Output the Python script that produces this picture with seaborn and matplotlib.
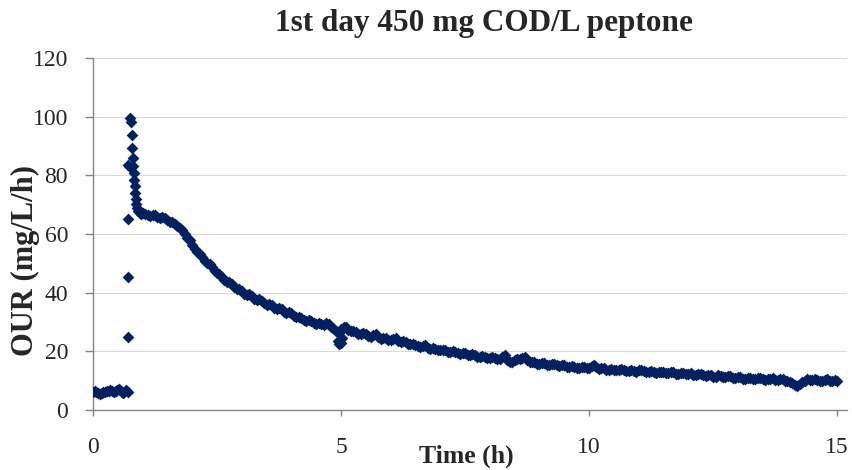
import matplotlib
matplotlib.use("Agg")
import matplotlib.pyplot as plt
import pandas as pd
import seaborn as sns

# Oxygen uptake rate readings, first day, 450 mg COD/L peptone
# Endogenous baseline before the substrate pulse
base_t = [0.00, 0.035, 0.07, 0.105, 0.14, 0.175, 0.21, 0.245, 0.28, 0.315, 0.35,
          0.385, 0.42, 0.455, 0.49, 0.525, 0.56, 0.595, 0.63, 0.665, 0.70]
base_our = [6.3, 6.5, 6.1, 5.8, 5.6, 5.9, 6.2, 6.0, 6.4, 6.6, 6.9,
            6.5, 6.2, 6.4, 6.8, 7.2, 6.6, 5.9, 6.2, 6.7, 6.3]

# Response to the peptone pulse
spike_t = [0.71, 0.71, 0.71, 0.71, 0.74, 0.75, 0.77, 0.78, 0.79, 0.80, 0.81,
           0.82, 0.83, 0.84, 0.85, 0.86, 0.87, 0.89, 0.91, 0.94, 0.97]
spike_our = [24.8, 45.5, 65.0, 83.5, 83.0, 99.5, 98.3, 93.8, 89.3, 85.8, 83.2,
             80.8, 78.4, 76.2, 74.0, 71.8, 70.2, 68.8, 68.0, 67.3, 66.9]

# Degradation phase, readings on the tenth of the hour
decay_t = [
    1.0, 1.1, 1.2, 1.3, 1.4, 1.5, 1.6, 1.7, 1.8, 1.9,
    2.0, 2.1, 2.2, 2.3, 2.4, 2.5, 2.6, 2.7, 2.8, 2.9,
    3.0, 3.1, 3.2, 3.3, 3.4, 3.5, 3.6, 3.7, 3.8, 3.9,
    4.0, 4.1, 4.2, 4.3, 4.4, 4.5, 4.6, 4.7, 4.8, 4.9,
    4.93, 4.96, 4.99, 5.02,
    5.0, 5.1, 5.2, 5.3, 5.4, 5.5, 5.6, 5.7, 5.8, 5.9,
    6.0, 6.1, 6.2, 6.3, 6.4, 6.5, 6.6, 6.7, 6.8, 6.9,
    7.0, 7.1, 7.2, 7.3, 7.4, 7.5, 7.6, 7.7, 7.8, 7.9,
    8.0, 8.1, 8.2, 8.3, 8.4, 8.5, 8.6, 8.7, 8.8, 8.9,
    9.0, 9.1, 9.2, 9.3, 9.4, 9.5, 9.6, 9.7, 9.8, 9.9,
    10.0, 10.1, 10.2, 10.3, 10.4, 10.5, 10.6, 10.7, 10.8, 10.9,
    11.0, 11.1, 11.2, 11.3, 11.4, 11.5, 11.6, 11.7, 11.8, 11.9,
    12.0, 12.1, 12.2, 12.3, 12.4, 12.5, 12.6, 12.7, 12.8, 12.9,
    13.0, 13.1, 13.2, 13.3, 13.4, 13.5, 13.6, 13.7, 13.8, 13.9,
    14.0, 14.1, 14.2, 14.3, 14.4, 14.5, 14.6, 14.7, 14.8, 14.9,
    15.0,
]
decay_our = [
    67.0, 66.4, 66.6, 65.9, 65.7, 64.9, 64.1, 62.6, 61.3, 58.8,
    56.3, 53.7, 52.2, 50.0, 48.9, 46.6, 45.5, 43.6, 42.9, 41.3,
    40.6, 39.3, 38.9, 37.6, 37.3, 35.9, 35.7, 34.5, 34.3, 33.1,
    32.9, 31.7, 31.5, 30.4, 30.3, 29.2, 29.3, 29.6, 28.4, 27.0,
    23.6, 22.4, 22.9, 24.5,
    27.6, 28.2, 27.0, 26.7, 25.8, 25.9, 25.0, 25.8, 24.2, 24.7,
    23.7, 24.4, 23.2, 23.1, 22.4, 22.2, 21.4, 22.0, 20.9, 20.9,
    20.3, 20.5, 19.7, 19.8, 19.1, 19.5, 18.7, 18.7, 18.1, 18.1,
    17.6, 17.7, 17.4, 18.6, 16.5, 17.0, 17.3, 17.9, 16.4, 16.2,
    15.8, 15.9, 15.4, 15.8, 15.1, 15.2, 14.8, 14.8, 14.4, 14.5,
    14.4, 15.4, 14.1, 14.2, 13.7, 13.8, 13.6, 13.7, 13.4, 13.3,
    13.5, 13.4, 13.0, 13.1, 12.8, 12.9, 12.5, 13.0, 12.3, 12.5,
    12.4, 12.1, 12.3, 11.8, 11.8, 11.4, 11.9, 11.2, 11.5, 11.0,
    11.2, 10.7, 11.0, 10.5, 10.9, 10.4, 10.5, 10.8, 10.1, 10.4,
    9.9, 9.2, 8.1, 9.5, 10.5, 10.1, 10.2, 10.0, 10.4, 9.8,
    9.9,
]

# Degradation phase, readings between the tenths
mid_t = [
    1.05, 1.15, 1.25, 1.35, 1.45, 1.55, 1.65, 1.75, 1.85, 1.95,
    2.05, 2.15, 2.25, 2.35, 2.45, 2.55, 2.65, 2.75, 2.85, 2.95,
    3.05, 3.15, 3.25, 3.35, 3.45, 3.55, 3.65, 3.75, 3.85, 3.95,
    4.05, 4.15, 4.25, 4.35, 4.45, 4.55, 4.65, 4.75, 4.85, 4.95,
    5.05, 5.15, 5.25, 5.35, 5.45, 5.55, 5.65, 5.75, 5.85, 5.95,
    6.05, 6.15, 6.25, 6.35, 6.45, 6.55, 6.65, 6.75, 6.85, 6.95,
    7.05, 7.15, 7.25, 7.35, 7.45, 7.55, 7.65, 7.75, 7.85, 7.95,
    8.05, 8.15, 8.25, 8.35, 8.45, 8.55, 8.65, 8.75, 8.85, 8.95,
    9.05, 9.15, 9.25, 9.35, 9.45, 9.55, 9.65, 9.75, 9.85, 9.95,
    10.05, 10.15, 10.25, 10.35, 10.45, 10.55, 10.65, 10.75, 10.85, 10.95,
    11.05, 11.15, 11.25, 11.35, 11.45, 11.55, 11.65, 11.75, 11.85, 11.95,
    12.05, 12.15, 12.25, 12.35, 12.45, 12.55, 12.65, 12.75, 12.85, 12.95,
    13.05, 13.15, 13.25, 13.35, 13.45, 13.55, 13.65, 13.75, 13.85, 13.95,
    14.05, 14.15, 14.25, 14.35, 14.45, 14.55, 14.65, 14.75, 14.85, 14.95,
]
mid_our = [
    66.9, 66.0, 66.4, 65.5, 65.6, 64.2, 63.5, 62.2, 60.0, 57.9,
    54.8, 53.2, 50.8, 49.8, 47.5, 46.3, 44.3, 43.5, 41.9, 41.2,
    39.7, 39.4, 38.0, 37.7, 36.4, 36.1, 34.9, 34.7, 33.5, 33.3,
    32.1, 31.8, 30.8, 30.6, 29.6, 29.5, 28.9, 29.4, 27.6, 26.2,
    28.3, 27.4, 27.1, 26.0, 26.1, 25.3, 25.6, 24.8, 24.7, 23.9,
    24.2, 23.5, 23.4, 22.5, 22.6, 21.7, 21.9, 21.3, 21.2, 20.4,
    20.6, 19.9, 20.0, 19.3, 19.5, 18.9, 19.0, 18.2, 18.4, 17.6,
    17.9, 17.3, 18.2, 17.2, 16.5, 17.3, 17.8, 17.0, 16.5, 15.8,
    16.1, 15.5, 15.8, 15.2, 15.4, 14.8, 15.0, 14.4, 14.7, 14.2,
    15.0, 14.6, 14.3, 13.7, 14.0, 13.5, 13.9, 13.3, 13.6, 13.1,
    13.7, 13.0, 13.3, 12.7, 13.1, 12.6, 12.9, 12.4, 12.6, 12.2,
    12.5, 11.9, 12.2, 11.5, 11.9, 11.3, 11.7, 11.1, 11.5, 10.9,
    11.1, 10.6, 10.9, 10.4, 10.8, 10.2, 10.7, 10.3, 10.5, 9.9,
    9.6, 8.4, 8.8, 10.0, 10.2, 10.5, 9.8, 10.3, 10.0, 10.2,
]

x_ticks = [0, 5, 10, 15]
y_ticks = [0, 20, 40, 60, 80, 100, 120]

df = pd.DataFrame({
    "Time (h)": base_t + spike_t + decay_t + mid_t,
    "OUR (mg/L/h)": base_our + spike_our + decay_our + mid_our,
})

sns.set_style("white")
plt.rcParams["font.family"] = ["Liberation Serif", "DejaVu Serif"]

W, H = 852, 470
fig = plt.figure(figsize=(W / 100, H / 100), dpi=100)
ax = fig.add_axes([93 / W, 1 - 410 / H, (847 - 93) / W, (410 - 58) / H])

navy = "#002060"
axis_grey = "#868686"

sns.scatterplot(data=df, x="Time (h)", y="OUR (mg/L/h)", marker="D", s=36,
                color=navy, linewidth=0, ax=ax, zorder=3)

ax.set_xlim(0, 15.2)
ax.set_ylim(0, 120)
ax.set_xticks(x_ticks)
ax.set_yticks(y_ticks)
ax.set_xticklabels([str(v) for v in x_ticks])
ax.set_yticklabels([str(v) for v in y_ticks])

ax.yaxis.grid(True, color="#d9d9d9", linewidth=0.8)
ax.xaxis.grid(False)
ax.set_axisbelow(True)

for side in ("top", "right"):
    ax.spines[side].set_visible(False)
for side in ("left", "bottom"):
    ax.spines[side].set_color(axis_grey)
    ax.spines[side].set_linewidth(1.0)

ax.tick_params(axis="y", direction="out", length=6, width=1.0, color=axis_grey,
               pad=12, labelsize=17, left=True)
ax.tick_params(axis="x", direction="out", length=4.5, width=1.0, color=axis_grey,
               pad=15, labelsize=17, bottom=True)

ax.set_xlabel("Time (h)", fontsize=18.5, fontweight="bold")
ax.xaxis.label.set_va("center")
ax.xaxis.set_label_coords((466 - 93) / 754, (410 - 456) / 352)

ax.set_ylabel("OUR (mg/L/h)", fontsize=22, fontweight="bold")
ax.yaxis.label.set_va("center")
ax.yaxis.set_label_coords((25 - 93) / 754, (410 - 260) / 352)

fig.text(484 / W, 1 - 23 / H, "1st day 450 mg COD/L peptone",
         ha="center", va="center", fontsize=22.5, fontweight="bold")

fig.savefig("out.png", dpi=100)
